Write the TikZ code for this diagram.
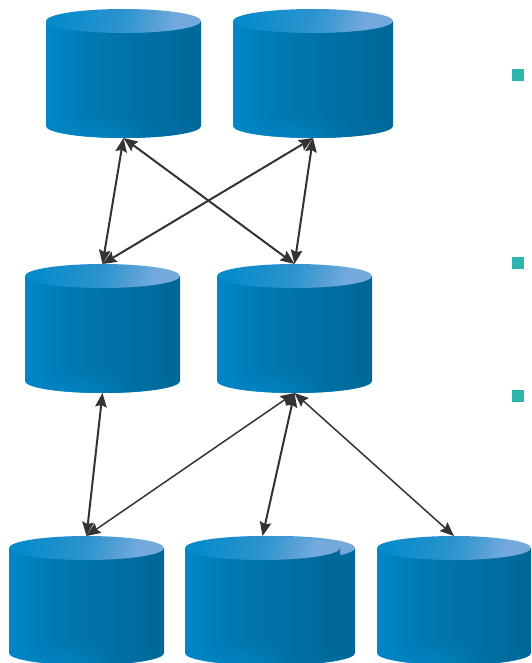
\documentclass[tikz,border=0pt]{standalone}
\usepackage{tikz}
\usetikzlibrary{arrows.meta, fadings}
\definecolor{linkgrey}{HTML}{333333}
\definecolor{bulletteal}{HTML}{2BB5AD}
\pgfdeclarehorizontalshading{drumbody}{100bp}{
	rgb(0bp)=(0,.537,.788); rgb(25bp)=(0,.537,.788); rgb(38bp)=(0,.478,.706);
	rgb(52bp)=(0,.447,.659); rgb(75bp)=(0,.404,.600); rgb(100bp)=(0,.404,.600)}
\pgfdeclarehorizontalshading{drumfoot}{100bp}{
	rgb(0bp)=(0,.522,.765); rgb(25bp)=(0,.522,.765); rgb(45bp)=(.02,.518,.757);
	rgb(58bp)=(0,.447,.659); rgb(75bp)=(0,.412,.608); rgb(100bp)=(0,.412,.608)}
\pgfdeclarehorizontalshading{drumlid}{100bp}{
	rgb(0bp)=(.03,.545,.796); rgb(25bp)=(.03,.545,.796); rgb(48bp)=(.16,.575,.810);
	rgb(56bp)=(.25,.605,.825); rgb(70bp)=(.455,.663,.867); rgb(100bp)=(.455,.663,.867)}
\tikzset{
	pics/drum/.style={code={
		\shade[shading=drumbody, shading angle=0]
			(0, 0) -- (0, 105) arc[start angle=180, end angle=360, x radius=#1pt/2, y radius=12pt]
			-- (#1, 0) -- cycle;
		\shade[shading=drumfoot, shading angle=0, path fading=north]
			(#1/2, 105) ellipse[x radius=#1pt/2, y radius=12pt];
		\shade[shading=drumlid, shading angle=-15]
			(#1/2, 0) ellipse[x radius=#1pt/2, y radius=12pt];
		\coordinate (top) at (#1/2, -12);
		\coordinate (bottom) at (#1/2, 117);
	}},
	biglink/.style={<->, >={Stealth[length=14pt, width=11.5pt, inset=2pt]}, draw=linkgrey, line width=2pt},
	thinlink/.style={biglink, line width=1.5pt},
	bullet/.style={fill=bulletteal, inner sep=0pt, minimum size=12.5pt},
}
\begin{document}
\begin{tikzpicture}[x=1pt, y=-1pt]
\useasboundingbox (0, 0) rectangle (531, 663);
% drums
\pic (tl) at (46, 21) {drum=155};
\pic (tr) at (233, 21) {drum=160};
\pic (ml) at (25, 276) {drum=155};
\pic (mr) at (217, 276) {drum=155};
\pic (bl) at (9, 548) {drum=155};
\pic (bb) at (200, 548) {drum=155};
\pic (bm) at (185, 548) {drum=155};
\pic (br) at (377, 548) {drum=154};
% links
\draw[biglink] (tlbottom) -- (mltop);
\draw[biglink] (tlbottom) -- (mrtop);
\draw[biglink] (trbottom) -- (mltop);
\draw[biglink] (trbottom) -- (mrtop);
\draw[biglink] (mlbottom) -- (bltop);
\draw[thinlink] (mrbottom) -- (bltop);
\draw[biglink] (mrbottom) -- (bmtop);
\draw[thinlink] (mrbottom) -- (brtop);
% bullets
\node[bullet] (b1) at (518, 75) {};
\node[bullet] (b2) at (518, 263) {};
\node[bullet] (b3) at (518, 396) {};
\end{tikzpicture}
\end{document}
